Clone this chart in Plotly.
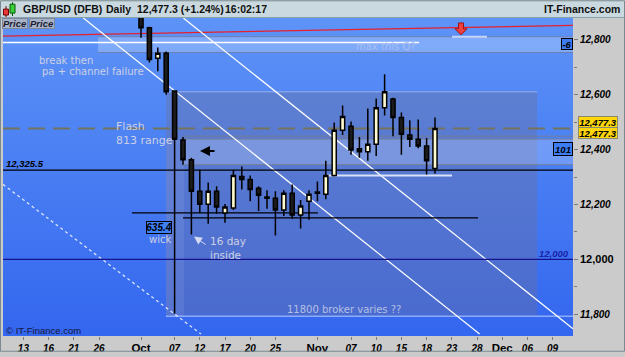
import numpy as np
import plotly.graph_objects as go

# ---------------- data ----------------
dates = ["2016-10-03","2016-10-04","2016-10-05","2016-10-06","2016-10-07",
         "2016-10-10","2016-10-11","2016-10-12","2016-10-13","2016-10-14",
         "2016-10-17","2016-10-18","2016-10-19","2016-10-20","2016-10-21",
         "2016-10-24","2016-10-25","2016-10-26","2016-10-27","2016-10-28",
         "2016-10-31","2016-11-01","2016-11-02","2016-11-03","2016-11-04",
         "2016-11-07","2016-11-08","2016-11-09","2016-11-10","2016-11-11",
         "2016-11-14","2016-11-15","2016-11-16","2016-11-17","2016-11-18",
         "2016-11-21"]
opens  = [12960,12844,12733,12751,12614, 12435,12363,12248,12201,12248,
          12169,12187,12302,12291,12259, 12227,12223,12180,12241,12162,
          12212,12241,12237,12306,12471, 12485,12403,12392,12420,12553,
          12585,12517,12453,12438,12413, 12331]
highs  = [12990,12848,12772,12758,12615, 12446,12370,12327,12280,12266,
          12202,12327,12338,12306,12266, 12252,12248,12252,12273,12216,
          12252,12284,12359,12499,12561, 12503,12446,12550,12586,12675,
          12589,12535,12507,12510,12442, 12517]
lows   = [12808,12718,12686,12600,11802, 12345,12090,12169,12130,12166,
          12133,12180,12255,12212,12176, 12184,12087,12158,12148,12112,
          12144,12212,12219,12302,12453, 12381,12370,12359,12377,12524,
          12449,12381,12410,12405,12309, 12313]
closes = [12844,12729,12751,12611,12438, 12363,12248,12201,12248,12191,
          12191,12306,12291,12255,12234, 12223,12180,12241,12162,12194,
          12237,12245,12306,12471,12521, 12399,12392,12420,12553,12611,
          12517,12456,12438,12413,12359, 12477.3]

tick_dates = ["2016-09-13","2016-09-16","2016-09-21","2016-09-26","2016-10-03",
              "2016-10-07","2016-10-12","2016-10-17","2016-10-20","2016-10-25",
              "2016-11-01","2016-11-07","2016-11-10","2016-11-15","2016-11-18",
              "2016-11-23","2016-11-28","2016-12-01","2016-12-06","2016-12-09"]
tick_labels = ["13","16","21","26","Oct","07","12","17","20","25",
               "Nov","07","10","15","18","23","28","Dec","06","09"]
month_labels = ["Oct","Nov","Dec"]

price_ticks = [11800, 12000, 12200, 12400, 12600, 12800]
price_labels = ["11,800", "12,000", "12,200", "12,400", "12,600", "12,800"]

last_price = 12477.3
change_pct = "+1.24%"
level_a = 12325.5
level_b = 12000
wick_size = "635.4"

ORIGIN = "2016-10-03"
xi = [int(np.busday_count(ORIGIN, d)) for d in dates]
txi = [int(np.busday_count(ORIGIN, d)) for d in tick_dates]

# ---------------- geometry helpers ----------------
W, H = 625, 357
L, R, T, B = 3, 573, 18, 341


def px(x):
    return (x - L) / (R - L)


def py(y):
    return (B - y) / (B - T)


XR = [(L - 141) / 8.4, (R - 141) / 8.4]
YR = [11720.3, 12880.0]

fig = go.Figure()

fig.add_trace(go.Candlestick(
    x=xi, open=opens, high=highs, low=lows, close=closes,
    increasing=dict(fillcolor="#fffbd0", line=dict(color="#000000", width=1.5)),
    decreasing=dict(fillcolor="#1c1c1c", line=dict(color="#000000", width=1.5)),
    whiskerwidth=0, showlegend=False, hoverinfo="skip"))

shapes = []

# background gradient
top_c = np.array([94, 148, 248])
bot_c = np.array([52, 103, 239])
N = 40
for k in range(N):
    t = (k + 0.5) / N
    c = top_c * (1 - t) + bot_c * t
    shapes.append(dict(type="rect", xref="paper", yref="paper", layer="below",
                       x0=0, x1=1, y0=1 - (k + 1) / N, y1=1 - k / N + 0.002,
                       fillcolor="rgb(%d,%d,%d)" % tuple(c.astype(int)), line=dict(width=0)))


def rect(x0, y0, x1, y1, fill, line=None, lw=0):
    shapes.append(dict(type="rect", xref="paper", yref="paper", layer="below",
                       x0=px(x0), x1=px(x1), y0=py(y1), y1=py(y0), fillcolor=fill,
                       line=dict(width=lw, color=line or "rgba(0,0,0,0)")))


def seg(x0, y0, x1, y1, color, width=1, dash=None):
    d = dict(type="line", xref="paper", yref="paper", layer="below",
             x0=px(x0), x1=px(x1), y0=py(y0), y1=py(y1),
             line=dict(color=color, width=width))
    if dash:
        d["line"]["dash"] = dash
    shapes.append(d)


def hprice(p, x0, x1, color, width=1, dash=None):
    d = dict(type="line", xref="paper", yref="y", layer="below",
             x0=px(x0), x1=px(x1), y0=p, y1=p, line=dict(color=color, width=width))
    if dash:
        d["line"]["dash"] = dash
    shapes.append(d)


# "max this Q?" band
rect(98, 37, 573, 53, "rgba(200,220,255,0.35)")
seg(98, 37, 573, 37, "rgba(110,125,170,0.9)", 1)
seg(98, 53, 573, 53, "rgba(110,125,170,0.9)", 1)
# flash range box
rect(166, 93, 537, 321, "rgba(112,112,150,0.36)")
rect(166, 141, 184, 321, "rgba(210,220,255,0.10)")
seg(166, 93, 537, 93, "rgba(170,190,240,0.8)", 1)
seg(166, 321, 573, 321, "rgba(150,180,255,0.9)", 1.5)
# arrow band
rect(183, 141, 573, 167, "rgba(210,222,255,0.28)")
seg(183, 138, 573, 138, "rgba(120,125,140,0.9)", 1)
seg(183, 141, 573, 141, "rgba(120,125,140,0.9)", 1)
seg(183, 167, 573, 167, "rgba(120,125,140,0.9)", 1)

# red trend line, white lines
seg(3, 36.5, 573, 25.5, "#e8202a", 1.2)
seg(3, 43, 419, 43, "#ffffff", 1.5)
seg(452, 37, 487, 37, "#c8d4f4", 2)
# diagonal channel lines
seg(183.3, 18, 573, 333.6, "#ffffff", 1.2)
seg(83.3, 18, 479.6, 339, "#ffffff", 1.2)
seg(3, 187, 201, 339, "rgba(235,240,255,0.9)", 1.3, "3px,3px")

# horizontal levels
hprice(last_price, 3, 573, "#74745c", 2, "17px,8px")
hprice(level_a, 3, 573, "#000000", 1.3)
hprice(level_b, 3, 573, "#14148a", 1.3)
seg(132, 216, 318, 216, "#000000", 1.3)
seg(183, 221, 478, 221, "#000000", 1.3)
seg(327, 178, 452, 178, "rgba(225,232,250,0.95)", 2)

# header bar
shapes.append(dict(type="rect", xref="paper", yref="paper", x0=px(0), x1=px(W),
                   y0=py(18), y1=py(0), fillcolor="#c9d9df", line=dict(width=0), layer="above"))
shapes.append(dict(type="line", xref="paper", yref="paper", x0=px(0), x1=px(W),
                   y0=py(17.5), y1=py(17.5), line=dict(color="#8aa0aa", width=1), layer="above"))
# icon candles
shapes.append(dict(type="line", xref="paper", yref="paper", x0=px(6), x1=px(6), y0=py(17), y1=py(6),
                   line=dict(color="#600000", width=1), layer="above"))
shapes.append(dict(type="rect", xref="paper", yref="paper", x0=px(3.5), x1=px(8.5), y0=py(15), y1=py(9),
                   fillcolor="#e83838", line=dict(color="#700000", width=1), layer="above"))
shapes.append(dict(type="line", xref="paper", yref="paper", x0=px(12.5), x1=px(12.5), y0=py(16), y1=py(2),
                   line=dict(color="#005000", width=1), layer="above"))
shapes.append(dict(type="rect", xref="paper", yref="paper", x0=px(10), x1=px(15), y0=py(13), y1=py(4),
                   fillcolor="#3ccc3c", line=dict(color="#006000", width=1), layer="above"))
# red down arrow
ax_ = [458.5, 463.5, 463.5, 467, 461, 455, 458.5]
ay_ = [23, 23, 29, 29, 35, 29, 29]
path = "M " + " L ".join("%f %f" % (px(a), py(b)) for a, b in zip(ax_, ay_)) + " Z"
shapes.append(dict(type="path", xref="paper", yref="paper", path=path,
                   fillcolor="#f04040", line=dict(color="#a01010", width=1), layer="above"))
# outer frame
shapes.append(dict(type="rect", xref="paper", yref="paper", x0=px(0.5), x1=px(W - 0.5),
                   y0=py(H - 0.5), y1=py(0.5), line=dict(color="#7a8a90", width=1), layer="above"))

fig.update_layout(shapes=shapes)

ann = []
LIGHT = "#ccd0e4"
SANS = "DejaVu Sans"
ARIAL = "Liberation Sans, Arial"


def text(x, y, s, size=10, color=LIGHT, family=SANS, anchor="left", **kw):
    d = dict(xref="paper", yref="paper", x=px(x), y=py(y), text=s, showarrow=False,
             xanchor=anchor, yanchor="middle", font=dict(size=size, color=color, family=family))
    d.update(kw)
    ann.append(d)


# header texts
text(21, 9, "<b>GBP/USD (DFB)</b>", 10.5, "#101010", ARIAL)
text(104, 9, "<b>Daily</b>", 10.5, "#101010", ARIAL)
text(135, 9, "<b>%s (%s)</b>" % (f"{last_price:,.1f}", change_pct), 10.5, "#101010", ARIAL)
text(223, 9, "<b>16:02:17</b>", 10.5, "#101010", ARIAL)
text(622, 9, "<b>IT-Finance.com</b>", 10.5, "#101010", ARIAL, anchor="right")
# price tabs
text(15, 23.5, "<b><i>Price</i></b>", 9.5, "#1c1c30", ARIAL, anchor="center",
     bgcolor="#a9b3c8", bordercolor="#7e879c", borderwidth=1, borderpad=0, width=24, height=9)
text(42, 23.5, "<b><i>Price</i></b>", 9.5, "#1c1c30", ARIAL, anchor="center",
     bgcolor="#a9b3c8", bordercolor="#7e879c", borderwidth=1, borderpad=0, width=24, height=9)

# chart notes
text(37, 61, "break then")
text(40, 72, "pa + channel failure")
text(114, 135.5, "Flash<br>813 range", 11, align="left")
text(386, 47, "max this Q?", 10, "#a9bff0", anchor="center")
text(147, 243, "wick")
text(208, 251.5, "16 day<br>inside", 10.5, align="left")
text(344, 314, "11800 broker varies ??", 10, "#b4c0e2", anchor="center")
text(4, 335, "© IT-Finance.com", 9.5, "#15153a", ARIAL)
text(4, 166, "<b><i>%s</i></b>" % f"{level_a:,.1f}", 9.5, "#000000", ARIAL)
text(571, 257, "<b><i>%s</i></b>" % f"{level_b:,}", 9.5, "#1a22a8", ARIAL, anchor="right")
text(159, 230.5, "<b><i>%s</i></b>" % wick_size, 10, "#000000", ARIAL, anchor="center",
     bgcolor="#3f82f8", bordercolor="#000000", borderwidth=1, borderpad=0, width=24, height=11)
text(573, 44, "<b><i>-6</i></b>", 9.5, "#000000", ARIAL, anchor="right",
     bgcolor="#3d7cf4", bordercolor="#000000", borderwidth=1, borderpad=0, width=10, height=10)
text(573, 151, "<b><i>101</i></b>", 9.5, "#000000", ARIAL, anchor="right",
     bgcolor="#3d7cf4", bordercolor="#000000", borderwidth=1, borderpad=0, width=18, height=12)
# yellow price boxes
for yy in (123.5, 135):
    text(598, yy, "<b><i>%s</i></b>" % f"{last_price:,.1f}", 9.5, "#000000", ARIAL, anchor="center",
         bgcolor="#ffd60a", bordercolor="#8a8a70", borderwidth=1, borderpad=0, width=38, height=10)

# arrows
ann.append(dict(xref="paper", yref="paper", x=px(200), y=py(153), ax=16, ay=0, text="",
                showarrow=True, arrowhead=2, arrowsize=1, arrowwidth=2, arrowcolor="#000000"))
ann.append(dict(xref="paper", yref="paper", x=px(194), y=py(240), ax=13, ay=9, text="",
                showarrow=True, arrowhead=2, arrowsize=1.6, arrowwidth=1, arrowcolor="#d4dcf4"))

fig.update_layout(annotations=ann)

# axis tick texts
xt = []
for lab in tick_labels:
    if lab in month_labels:
        xt.append("<b><span style='font-size:11.5px'>%s</span></b>" % lab)
    else:
        xt.append("<b><i>%s</i></b>" % lab)
yt = []
for v, lab in zip(price_ticks, price_labels):
    if v == level_b:
        yt.append("<b><span style='font-size:11px'>%s</span></b>" % lab)
    else:
        yt.append("<b><i>%s</i></b>" % lab)

fig.update_layout(
    width=W, height=H,
    margin=dict(l=L, r=W - R, t=T, b=H - B),
    paper_bgcolor="#cbcbcb", plot_bgcolor="#4a7ef4",
    showlegend=False,
    xaxis=dict(range=XR, tickvals=txi, ticktext=xt, showgrid=False, zeroline=False,
               rangeslider=dict(visible=False), ticks="outside", ticklen=3, tickcolor="#7a7a7a",
               tickfont=dict(family=ARIAL, size=10, color="#000000"), showline=False, fixedrange=True),
    yaxis=dict(range=YR, side="right", tickvals=price_ticks, ticktext=yt, showgrid=False,
               zeroline=False, ticks="outside", ticklen=4, tickcolor="#7a7a7a",
               minor=dict(dtick=100, tick0=11800, ticks="outside", ticklen=3, tickcolor="#7a7a7a"),
               tickfont=dict(family=ARIAL, size=10, color="#000000"), showline=False, fixedrange=True),
)

fig.write_html("out.html")
